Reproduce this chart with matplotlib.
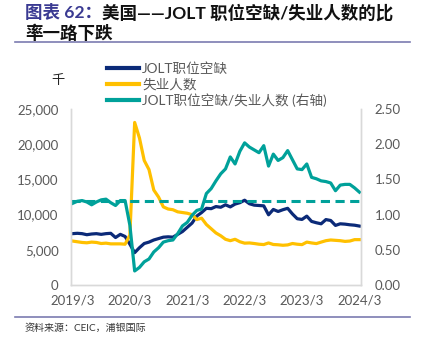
import matplotlib
matplotlib.use("Agg")
import matplotlib.pyplot as plt
from matplotlib.lines import Line2D

plt.rcParams['font.family'] = ['Lato', 'Noto Sans CJK SC', 'DejaVu Sans']

# monthly data, 2019/3 - 2024/3 (thousands / ratio)
months = [f"{y}/{m}" for y in range(2019, 2025) for m in range(1, 13)][2:63]

openings = [7300, 7350, 7300, 7150, 7250, 7300, 7200, 7300, 7350, 6750,
            7200, 6900, 5800, 4600, 5300, 5900, 6100, 6400, 6600, 6800,
            6850, 6800, 7200, 7600, 8200, 8800, 9800, 10300, 10900, 10850,
            11150, 11050, 11400, 11100, 11500, 11700, 12050, 11550, 11350, 11300,
            11250, 9980, 10740, 10450, 10700, 10900, 10100, 9420, 9320, 9790,
            9040, 8850, 8700, 9300, 9170, 8470, 8700, 8650, 8560, 8500,
            8380]

unemployed = [6250, 6150, 6050, 6000, 6100, 6050, 5900, 5950, 5850, 5850,
              5850, 5800, 7100, 23100, 20900, 17700, 16400, 13500, 12500, 11100,
              10800, 10700, 10400, 10300, 10200, 10000, 9300, 9500, 8600, 8000,
              7400, 7000, 6500, 6300, 6500, 6150, 5950, 5980, 5900, 5800,
              5750, 5980, 5760, 5720, 5650, 5700, 5900, 5800, 5740, 6100,
              5980, 5890, 6100, 6300, 6400, 6350, 6300, 6200, 6250, 6450,
              6450]

ratio = [1.16, 1.19, 1.20, 1.18, 1.14, 1.18, 1.21, 1.22, 1.17, 1.13,
         1.20, 1.20, 0.85, 0.20, 0.25, 0.33, 0.37, 0.47, 0.53, 0.61,
         0.63, 0.64, 0.73, 0.84, 0.89, 0.99, 1.06, 1.08, 1.30, 1.37,
         1.48, 1.58, 1.65, 1.82, 1.72, 1.90, 2.02, 1.96, 1.92, 1.88,
         1.98, 1.69, 1.86, 1.77, 1.81, 1.91, 1.78, 1.65, 1.64, 1.72,
         1.53, 1.51, 1.48, 1.47, 1.45, 1.34, 1.42, 1.43, 1.43, 1.38,
         1.32]

pre_covid_avg = 1.2

c_open = '#0B2A78'
c_unemp = '#FFC000'
c_ratio = '#00A19A'
c_tick = '#595959'
c_rule = '#7B7BB0'

fig = plt.figure(figsize=(4.23, 3.43), dpi=100)
ax = fig.add_axes([0.168, 0.169, 0.685, 0.513])
ax2 = ax.twinx()

x = list(range(len(months)))
ax.plot(x, openings, color=c_open, lw=2.3, solid_joinstyle='round')
ax.plot(x, unemployed, color=c_unemp, lw=2.3, solid_joinstyle='round')
ax2.axhline(pre_covid_avg, color=c_ratio, lw=2.2, dashes=(3, 1.8))
ax2.plot(x, ratio, color=c_ratio, lw=2.3, solid_joinstyle='round')

ax.set_xlim(-0.3, 60.3)
ax.set_ylim(0, 25000)
ax2.set_ylim(0, 2.5)
ax.set_yticks(range(0, 25001, 5000))
ax.set_yticklabels([f"{v:,}" for v in range(0, 25001, 5000)])
ax2.set_yticks([0, 0.5, 1.0, 1.5, 2.0, 2.5])
ax2.set_yticklabels([f"{v:.2f}" for v in [0, 0.5, 1.0, 1.5, 2.0, 2.5]])
ax.set_xticks(x[::12])
ax.set_xticklabels(months[::12])

for a in (ax, ax2):
    a.tick_params(length=0, labelsize=9.5, labelcolor=c_tick)
    a.spines['top'].set_visible(False)
    for s in ('left', 'right', 'bottom'):
        a.spines[s].set_color('#D9D9D9')
        a.spines[s].set_linewidth(1.0)
ax.tick_params(axis='y', pad=9)
ax.tick_params(axis='x', pad=7)
ax2.tick_params(axis='y', pad=10)

fig.text(0.137, 0.766, '千', fontsize=9.5, ha='center', va='center', color='#222222')

handles = [Line2D([], [], color=c_open, lw=3),
           Line2D([], [], color=c_unemp, lw=3),
           Line2D([], [], color=c_ratio, lw=3)]
labels = ['JOLT职位空缺', '失业人数', 'JOLT职位空缺/失业人数 (右轴)']
leg = fig.legend(handles, labels, loc='upper left', bbox_to_anchor=(0.252, 0.818),
                 frameon=False, fontsize=9.8, handlelength=2.4, handletextpad=0.2,
                 labelspacing=0.2, borderpad=0, borderaxespad=0)
for t in leg.get_texts():
    t.set_color(c_tick)

# title
t1 = fig.text(0.059, 0.963, '图表 62：', fontsize=12.6, fontweight='bold',
              color='#3A3A92', va='center', ha='left')
ax.annotate('美国——JOLT 职位空缺/失业人数的比', xy=(1, 0.5), xycoords=t1,
            va='center', ha='left', fontsize=12.6, fontweight='bold', color='#111111',
            annotation_clip=False)
fig.text(0.059, 0.902, '率一路下跌', fontsize=12.6, fontweight='bold',
         color='#111111', va='center', ha='left')

fig.add_artist(Line2D([0.035, 0.97], [0.879, 0.879], color=c_rule, lw=1.2,
                      transform=fig.transFigure))
fig.add_artist(Line2D([0.035, 0.97], [0.076, 0.076], color=c_rule, lw=1.2,
                      transform=fig.transFigure))
fig.text(0.059, 0.044, '资料来源：CEIC，浦银国际', fontsize=7.2, color='#333333',
         va='center', ha='left')

fig.savefig('out.png', dpi=100)
